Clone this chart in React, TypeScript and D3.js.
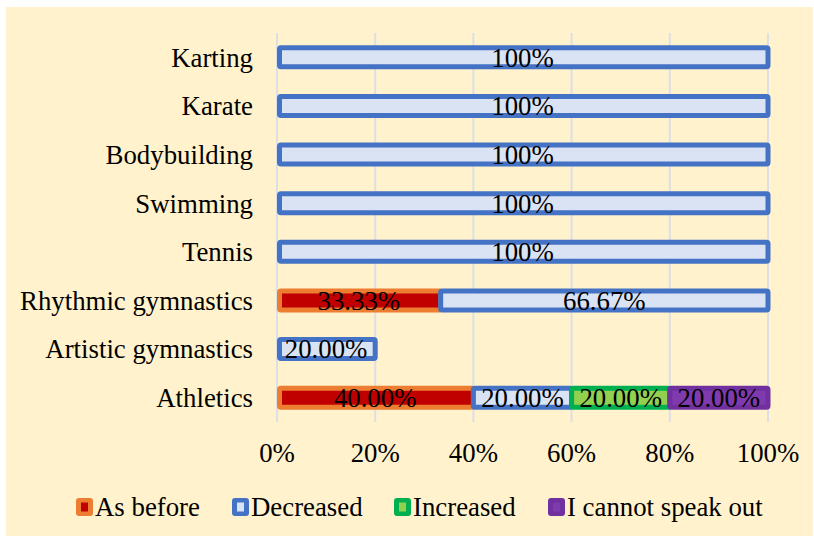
import * as React from "react";
import * as d3 from "d3";

// categories listed bottom -> top as in the source sheet
const categories = [
  "Athletics",
  "Artistic gymnastics",
  "Rhythmic gymnastics",
  "Tennis",
  "Swimming",
  "Bodybuilding",
  "Karate",
  "Karting"
];

const asBefore = [40, 0, 33.33, 0, 0, 0, 0, 0];
const decreased = [20, 20, 66.67, 100, 100, 100, 100, 100];
const increased = [20, 0, 0, 0, 0, 0, 0, 0];
const cannotSay = [20, 0, 0, 0, 0, 0, 0, 0];

const seriesNames = ["As before", "Decreased", "Increased", "I cannot speak out"];
const xTicks = [0, 20, 40, 60, 80, 100];

const fills = ["#C00000", "#DAE3F3", "#92D050", "#7F3AAE"];
const strokes = ["#ED7D31", "#4472C4", "#00B050", "#7030A0"];

const W = 814;
const H = 536;
const font = "'Liberation Serif', 'Times New Roman', serif";
const fs = 26.8;

export default function App() {
  const x = d3.scaleLinear().domain([0, 100]).range([277, 768]);
  const y = d3
    .scaleBand()
    .domain(categories.slice().reverse())
    .range([33, 422]);

  const rows = categories.map((c, i) => ({
    cat: c,
    s0: asBefore[i],
    s1: decreased[i],
    s2: increased[i],
    s3: cannotSay[i]
  }));
  const stack = d3.stack<any>().keys(["s0", "s1", "s2", "s3"]);
  const layers = stack(rows);

  const barH = 19;
  const fmt = (v: number) => (v === 100 ? "100%" : v.toFixed(2) + "%");

  // legend x positions of the markers
  const legendX = [76, 232, 394, 548];

  return (
    <svg
      width={W}
      height={H}
      style={{ position: "absolute", left: 0, top: 0 }}
      fontFamily={font}
    >
      <rect x={6} y={7} width={807} height={529} fill="#FFF2CC" />

      {xTicks.map(t => (
        <line
          key={t}
          x1={x(t)}
          x2={x(t)}
          y1={33}
          y2={422}
          stroke="#DCE0E6"
          strokeWidth={2}
        />
      ))}

      {layers.map((layer, li) =>
        layer.map((d: any) => {
          const v = d[1] - d[0];
          if (v <= 0) return null;
          const cy = (y(d.data.cat) as number) + y.bandwidth() / 2;
          const x0 = x(d[0]) + (d[0] === 0 ? 2.5 : 0);
          const x1 = x(d[1]);
          return (
            <g key={li + d.data.cat}>
              <rect
                x={x0}
                y={cy - barH / 2}
                width={x1 - x0}
                height={barH}
                rx={1.5}
                fill={fills[li]}
                stroke={strokes[li]}
                strokeWidth={5}
              />
            </g>
          );
        })
      )}

      {layers.map((layer, li) =>
        layer.map((d: any) => {
          const v = d[1] - d[0];
          if (v <= 0) return null;
          const cy = (y(d.data.cat) as number) + y.bandwidth() / 2;
          return (
            <text
              key={"t" + li + d.data.cat}
              x={(x(d[0]) + x(d[1])) / 2}
              y={cy}
              dy="0.35em"
              textAnchor="middle"
              fontSize={fs}
              fill="#000"
            >
              {fmt(v)}
            </text>
          );
        })
      )}

      {categories.map(c => (
        <text
          key={c}
          x={253}
          y={(y(c) as number) + y.bandwidth() / 2}
          dy="0.35em"
          textAnchor="end"
          fontSize={fs}
          fill="#000"
        >
          {c}
        </text>
      ))}

      {xTicks.map(t => (
        <text
          key={"x" + t}
          x={x(t)}
          y={453}
          dy="0.35em"
          textAnchor="middle"
          fontSize={fs}
          fill="#000"
        >
          {t + "%"}
        </text>
      ))}

      {seriesNames.map((n, i) => (
        <g key={n} transform={`translate(${legendX[i]},498)`}>
          <rect width={17} height={18} rx={3} fill={strokes[i]} />
          <rect x={5} y={4.5} width={7} height={9} fill={fills[i]} />
          <text x={19} y={9} dy="0.35em" fontSize={fs} fill="#000">
            {n}
          </text>
        </g>
      ))}
    </svg>
  );
}
